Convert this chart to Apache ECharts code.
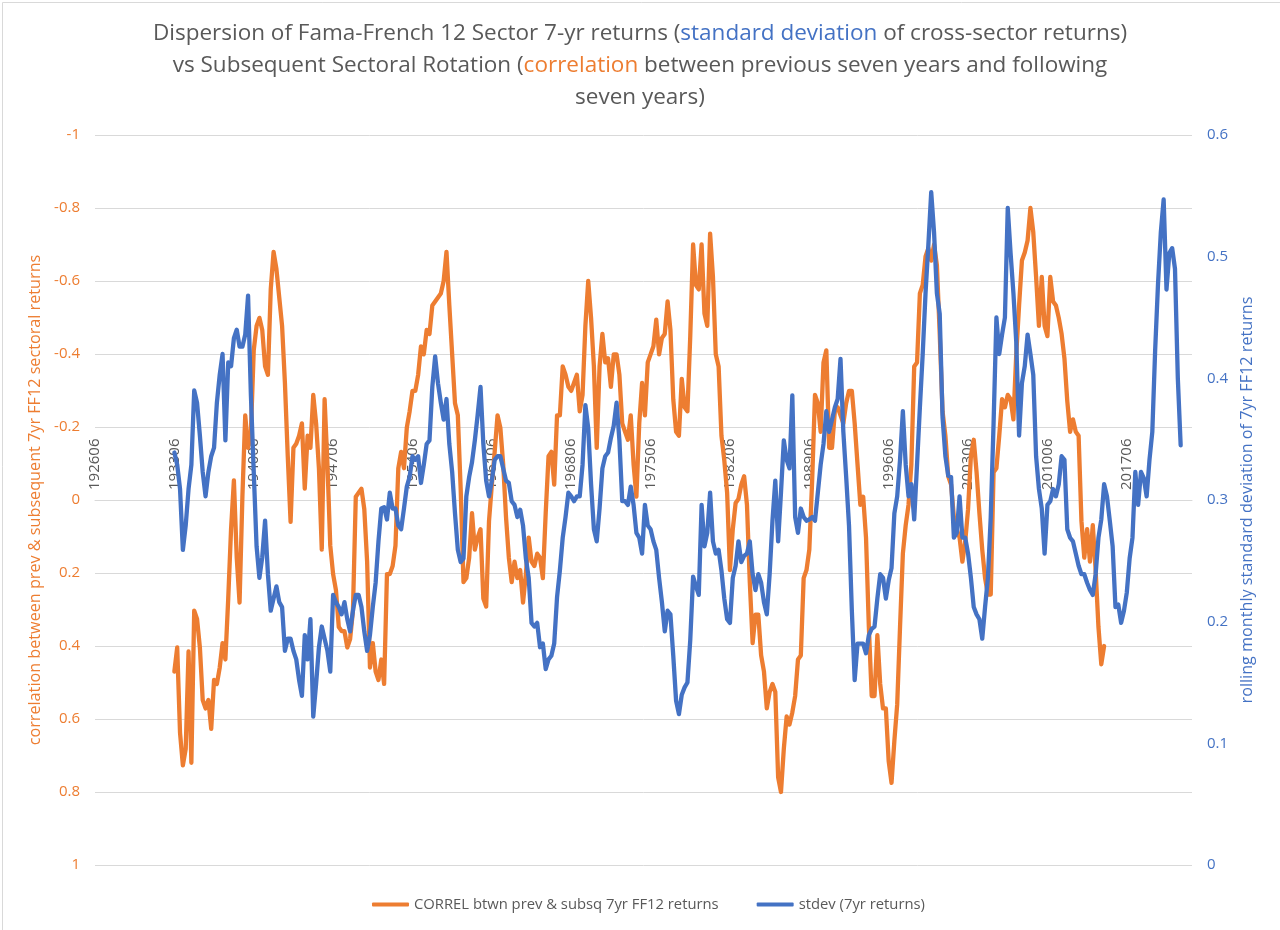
<!DOCTYPE html>
<html>
<head>
<meta charset="utf-8">
<script src="https://cdn.jsdelivr.net/npm/echarts@6/dist/echarts.min.js"></script>
<style>
html,body{margin:0;padding:0;background:#fff;}
#chart{width:1280px;height:930px;}
</style>
</head>
<body>
<div id="chart"></div>
<script>
// Category axis: quarterly periods (YYYYMM), first period and count
const firstYear = 1926, firstMonth = 6, periodCount = 388;
// Tick labels shown on the category axis
const tickLabels = ['192606','193306','194006','194706','195406','196106','196806','197506','198206','198906','199606','200306','201006','201706'];
// Both series start at this period
const seriesStart = '193306';

// Title lines
const titleLines = [
  '{g|Dispersion of Fama-French 12 Sector 7-yr returns (}{b|standard deviation}{g| of cross-sector returns)}',
  '{g|vs Subsequent Sectoral Rotation (}{o|correlation}{g| between previous seven years and following}',
  '{g|seven years)}'
];

// CORREL btwn prev & subsq 7yr FF12 returns (left axis, inverted)
const correlValues = [
0.470,0.404,0.638,0.727,0.682,0.415,0.720,0.303,0.326,0.404,0.548,0.571,0.548,0.627,0.493,0.504,0.459,0.392,0.437,0.270,0.080,-0.054,
0.158,0.281,-0.009,-0.232,-0.143,-0.187,-0.410,-0.477,-0.499,-0.466,-0.366,-0.343,-0.577,-0.680,-0.633,-0.555,-0.477,-0.321,-0.120,0.060,-0.143,-0.154,-0.176,-0.210,-0.031,-0.176,-0.143,-0.288,-0.210,-0.087,0.136,-0.276,-0.098,0.125,0.203,0.247,0.348,0.359,0.359,0.404,0.381,0.303,-0.009,-0.020,-0.031,0.025,0.169,0.459,0.392,0.470,0.493,0.437,0.504,0.203,
0.203,0.181,0.125,-0.087,-0.132,-0.087,-0.198,-0.243,-0.299,-0.299,-0.343,-0.421,-0.399,-0.466,-0.455,-0.533,-0.544,-0.555,-0.566,-0.600,-0.680,-0.533,-0.399,-0.265,-0.232,-0.031,0.225,0.214,0.158,0.036,0.136,0.103,0.080,0.270,0.292,0.058,-0.042,-0.132,-0.232,-0.198,-0.098,0.047,0.158,0.225,0.169,0.214,0.192,0.281,0.203,0.103,0.169,0.181,0.147,
0.158,0.214,0.036,-0.120,-0.132,-0.042,-0.232,-0.232,-0.366,-0.343,-0.310,-0.299,-0.321,-0.343,-0.243,-0.288,-0.477,-0.600,-0.499,-0.366,-0.143,-0.366,-0.455,-0.377,-0.388,-0.310,-0.399,-0.399,-0.343,-0.210,-0.187,-0.165,-0.232,-0.098,-0.009,-0.210,-0.321,-0.232,-0.377,-0.399,-0.421,-0.494,-0.399,-0.444,-0.455,-0.544,-0.466,-0.276,-0.187,-0.176,-0.332,-0.254,-0.243,
-0.450,-0.700,-0.589,-0.577,-0.700,-0.511,-0.477,-0.730,-0.611,-0.399,-0.366,-0.176,-0.109,-0.020,0.192,0.080,0.008,-0.003,-0.042,-0.065,0.013,0.225,0.392,0.314,0.314,0.426,0.470,0.571,0.526,0.504,0.526,0.760,0.800,0.682,0.593,0.615,0.582,0.537,0.437,0.426,0.214,0.192,0.136,-0.054,-0.288,-0.265,-0.187,-0.377,-0.410,-0.143,-0.143,-0.243,-0.254,-0.232,-0.210,
-0.265,-0.299,-0.299,-0.210,-0.098,0.013,-0.009,0.103,0.348,0.537,0.537,0.370,0.504,0.571,0.571,0.716,0.775,0.660,0.560,0.348,0.147,0.069,0.013,-0.098,-0.366,-0.377,-0.566,-0.589,-0.667,-0.690,-0.656,-0.700,-0.644,-0.455,-0.243,-0.176,-0.065,-0.042,0.047,0.080,0.103,0.169,0.114,0.025,-0.120,-0.165,-0.076,0.036,0.136,0.214,0.259,0.259,
-0.076,-0.087,-0.176,-0.276,-0.254,-0.288,-0.276,-0.221,-0.399,-0.533,-0.656,-0.678,-0.711,-0.800,-0.734,-0.611,-0.477,-0.611,-0.477,-0.449,-0.611,-0.544,-0.533,-0.499,-0.455,-0.388,-0.271,-0.187,-0.221,-0.187,-0.176,0.058,0.158,0.080,0.169,0.069,0.192,0.348,0.450,0.400
];

// stdev (7yr returns) (right axis)
const stdevValues = [
0.339,0.329,0.309,0.259,0.279,0.309,0.329,0.390,0.380,0.353,0.323,0.303,0.323,0.336,0.343,0.380,0.403,0.420,0.349,0.413,0.410,0.433,
0.440,0.426,0.426,0.436,0.468,0.386,0.323,0.262,0.236,0.253,0.283,0.239,0.209,0.219,0.229,0.216,0.212,0.176,0.186,0.186,0.176,0.169,0.152,0.139,0.189,0.169,0.202,0.122,0.149,0.179,0.196,0.186,0.176,0.159,0.222,0.216,0.212,0.206,0.216,0.202,0.192,0.209,0.222,0.222,0.212,0.192,0.176,0.189,0.212,0.232,0.266,0.293,0.294,0.284,
0.306,0.293,0.293,0.279,0.276,0.293,0.311,0.319,0.336,0.333,0.336,0.314,0.329,0.346,0.349,0.393,0.418,0.396,0.380,0.366,0.383,0.346,0.323,0.289,0.259,0.249,0.252,0.303,0.319,0.331,0.349,0.370,0.393,0.346,0.316,0.303,0.316,0.333,0.336,0.336,0.326,0.316,0.314,0.299,0.296,0.286,0.292,0.279,0.252,0.236,0.199,0.196,0.199,
0.179,0.182,0.161,0.169,0.172,0.182,0.220,0.242,0.269,0.286,0.306,0.303,0.299,0.303,0.303,0.329,0.378,0.359,0.313,0.276,0.266,0.293,0.326,0.336,0.339,0.351,0.361,0.380,0.349,0.299,0.299,0.296,0.311,0.296,0.273,0.269,0.256,0.296,0.279,0.276,0.266,0.259,0.236,0.216,0.192,0.209,0.206,0.172,0.135,0.124,0.140,0.146,0.150,0.185,
0.237,0.229,0.222,0.296,0.262,0.273,0.306,0.266,0.256,0.259,0.242,0.219,0.202,0.199,0.236,0.246,0.266,0.249,0.254,0.256,0.266,0.239,0.226,0.239,0.232,0.216,0.206,0.239,0.283,0.316,0.266,0.306,0.349,0.333,0.326,0.386,0.286,0.273,0.293,0.286,0.283,0.284,0.286,0.283,0.306,0.329,0.346,0.373,0.356,0.366,0.376,0.383,0.416,0.356,
0.319,0.279,0.209,0.152,0.182,0.182,0.182,0.174,0.189,0.194,0.196,0.219,0.239,0.236,0.219,0.234,0.244,0.289,0.303,0.333,0.373,0.329,0.303,0.313,0.284,0.329,0.376,0.420,0.470,0.510,0.553,0.520,0.470,0.453,0.368,0.336,0.320,0.319,0.269,0.273,0.303,0.269,0.269,0.256,0.236,0.212,0.206,0.202,0.186,0.212,0.236,0.286,
0.363,0.450,0.420,0.436,0.450,0.540,0.503,0.470,0.430,0.353,0.396,0.410,0.436,0.420,0.403,0.336,0.309,0.293,0.256,0.296,0.299,0.309,0.303,0.313,0.336,0.333,0.276,0.269,0.266,0.256,0.246,0.239,0.239,0.232,0.226,0.222,0.239,0.269,0.284,0.313,0.303,0.283,0.262,0.212,0.214,0.199,0.209,0.224,0.252,0.269,0.323,0.296,0.323,0.318,0.303,
0.333,0.356,0.423,0.477,0.520,0.547,0.473,0.503,0.507,0.490,0.400,0.345
];

// build category list
const categories = [];
{
  let y = firstYear, m = firstMonth;
  for (let i = 0; i < periodCount; i++) {
    categories.push(String(y) + String(m).padStart(2, '0'));
    m += 3; if (m > 12) { m -= 12; y += 1; }
  }
}
function place(values) {
  const start = categories.indexOf(seriesStart);
  const out = new Array(categories.length).fill(null);
  values.forEach((v, i) => { out[start + i] = v; });
  return out;
}

const FONT = 'Open Sans';
const GRAY = '#595959';
const ORANGE = '#ED7D31';
const BLUE = '#4472C4';
const TFS = 22.5;
const richTitle = {
  g: { fontFamily: FONT, fontSize: TFS, color: GRAY, lineHeight: 30 },
  b: { fontFamily: FONT, fontSize: TFS, color: BLUE, lineHeight: 30 },
  o: { fontFamily: FONT, fontSize: TFS, color: ORANGE, lineHeight: 30 }
};
const titleTops = [19, 51, 83];

const GRID_TOP = 135, GRID_BOTTOM = 65, CHART_H = 930;
const plotH = CHART_H - GRID_TOP - GRID_BOTTOM;
// the category axis crosses the left axis at value 0 (middle of the -1..1 range)
const zeroOffset = -plotH / 2;

const chart = echarts.init(document.getElementById('chart'), null, { renderer: 'canvas' });
chart.setOption({
  animation: false,
  backgroundColor: '#ffffff',
  graphic: [{
    type: 'rect', left: 0, top: 0, silent: true,
    shape: { x: 0.5, y: 0.5, width: 1279, height: 929 },
    style: { fill: 'none', stroke: '#d9d9d9', lineWidth: 1 }
  }],
  title: titleLines.map((t, i) => ({
    left: 'center', top: titleTops[i], padding: 0,
    text: t,
    textStyle: { fontFamily: FONT, fontSize: TFS, fontWeight: 'normal', color: GRAY, rich: richTitle }
  })),
  legend: {
    top: 892, left: 367,
    itemWidth: 37, itemHeight: 4, itemGap: 38,
    icon: 'roundRect',
    textStyle: { fontFamily: FONT, fontSize: 14.8, color: GRAY },
    data: ['CORREL btwn prev & subsq 7yr FF12 returns', 'stdev (7yr returns)']
  },
  grid: { left: 95, right: 88, top: GRID_TOP, bottom: GRID_BOTTOM, containLabel: false },
  xAxis: {
    type: 'category',
    position: 'top',
    offset: zeroOffset,
    data: categories,
    boundaryGap: false,
    axisLine: { show: true, onZero: false, lineStyle: { color: '#d9d9d9', width: 1 } },
    axisTick: { show: false },
    splitLine: { show: false },
    axisLabel: {
      rotate: -90, margin: 10,
      fontFamily: FONT, fontSize: 15, color: GRAY,
      interval: (idx, val) => tickLabels.indexOf(val) >= 0
    }
  },
  yAxis: [{
    type: 'value', inverse: true, min: -1, max: 1, interval: 0.2,
    position: 'left',
    name: 'correlation between prev & subsequent 7yr FF12 sectoral returns',
    nameLocation: 'middle', nameRotate: 90, nameGap: 47,
    nameTextStyle: { fontFamily: FONT, fontSize: 16.2, color: ORANGE },
    axisLine: { show: false }, axisTick: { show: false },
    axisLabel: { margin: 15, fontFamily: FONT, fontSize: 15, color: ORANGE,
      formatter: v => String(Math.round(v * 10) / 10) },
    splitLine: { show: true, lineStyle: { color: '#d9d9d9', width: 1 } }
  }, {
    type: 'value', min: 0, max: 0.6, interval: 0.1,
    position: 'right',
    name: 'rolling monthly standard deviation of 7yr FF12 returns',
    nameLocation: 'middle', nameRotate: 90, nameGap: 44,
    nameTextStyle: { fontFamily: FONT, fontSize: 16.2, color: BLUE },
    axisLine: { show: false }, axisTick: { show: false },
    axisLabel: { margin: 15, fontFamily: FONT, fontSize: 15, color: BLUE,
      formatter: v => String(Math.round(v * 10) / 10) },
    splitLine: { show: false }
  }],
  series: [{
    name: 'CORREL btwn prev & subsq 7yr FF12 returns',
    type: 'line', yAxisIndex: 0,
    data: place(correlValues),
    showSymbol: false, symbol: 'none',
    itemStyle: { color: ORANGE },
    lineStyle: { color: ORANGE, width: 4.3, cap: 'round', join: 'round' },
    z: 2
  }, {
    name: 'stdev (7yr returns)',
    type: 'line', yAxisIndex: 1,
    data: place(stdevValues),
    showSymbol: false, symbol: 'none',
    itemStyle: { color: BLUE },
    lineStyle: { color: BLUE, width: 4.3, cap: 'round', join: 'round' },
    z: 3
  }]
});
</script>
</body>
</html>
